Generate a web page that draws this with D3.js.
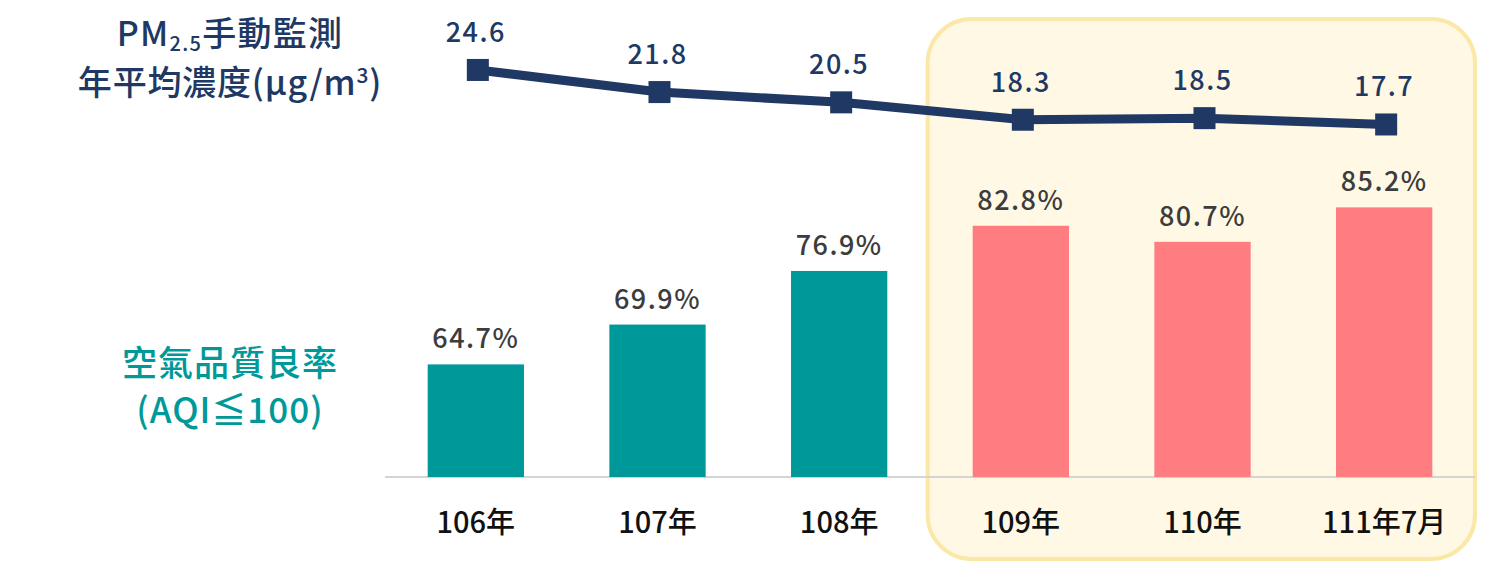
<!DOCTYPE html>
<html><head><meta charset="utf-8">
<script src="https://cdn.jsdelivr.net/npm/d3@7"></script>
<style>body{margin:0;background:#fff;}svg{display:block;}</style>
</head><body>
<svg id="c" width="1500" height="563"></svg>
<script>
const categories = ["106年","107年","108年","109年","110年","111年7月"];
const aqiRate = [64.7, 69.9, 76.9, 82.8, 80.7, 85.2];
const pm25 = [24.6, 21.8, 20.5, 18.3, 18.5, 17.7];
const highlighted = ["109年","110年","111年7月"];

const svg = d3.select("#c");
const font = "'Noto Sans CJK TC','Noto Sans',sans-serif";
const navy = "#203864", teal = "#009999", pink = "#ff7c80";

const x = d3.scaleBand().domain(categories).range([385, 1475]).paddingInner(0.47).paddingOuter(0.235);
const yBar = d3.scaleLinear().domain([50, 100]).range([477, 94]);
const yLine = d3.scaleLinear().domain([15, 25]).range([145.8, 66.8]);

// highlight box
const hx0 = x("109年") - 45;
svg.append("rect").attr("x", hx0).attr("y", 19).attr("width", 1475 - hx0).attr("height", 540)
  .attr("rx", 44).attr("fill", "#fff8e4").attr("stroke", "#fbe8a6").attr("stroke-width", 4);

// axis line
svg.append("line").attr("x1", 385).attr("x2", 1475).attr("y1", yBar(50)).attr("y2", yBar(50))
  .attr("stroke", "#d4d4d4").attr("stroke-width", 2);

// bars
svg.selectAll(".bar").data(categories).join("rect")
  .attr("x", d => x(d)).attr("width", x.bandwidth())
  .attr("y", (d, i) => yBar(aqiRate[i])).attr("height", (d, i) => yBar(50) - yBar(aqiRate[i]))
  .attr("fill", d => highlighted.includes(d) ? pink : teal);

svg.selectAll(".blab").data(categories).join("text")
  .attr("x", d => x(d) + x.bandwidth() / 2).attr("y", (d, i) => yBar(aqiRate[i]) - 16)
  .attr("text-anchor", "middle").attr("font-family", font).attr("font-size", 27).attr("font-weight", 500)
  .attr("fill", "#3c3c3c").attr("letter-spacing", 1.5)
  .text((d, i) => aqiRate[i].toFixed(1) + "%");

// category labels
svg.selectAll(".cat").data(categories).join("text")
  .attr("x", d => x(d) + x.bandwidth() / 2).attr("y", 533)
  .attr("text-anchor", "middle").attr("font-family", font).attr("font-size", 29).attr("font-weight", 500)
  .attr("fill", "#111")
  .text(d => d);

// line
const cx = d => x(d) + x.bandwidth() / 2 + 2;
const line = d3.line().x(d => cx(d)).y((d, i) => yLine(pm25[i]));
svg.append("path").datum(categories).attr("d", line).attr("fill", "none")
  .attr("stroke", navy).attr("stroke-width", 9).attr("stroke-linejoin", "round");
svg.selectAll(".mk").data(categories).join("rect")
  .attr("x", d => cx(d) - 11).attr("y", (d, i) => yLine(pm25[i]) - 11)
  .attr("width", 22).attr("height", 22).attr("fill", navy);
svg.selectAll(".llab").data(categories).join("text")
  .attr("x", d => cx(d) - 2).attr("y", (d, i) => yLine(pm25[i]) - 28)
  .attr("text-anchor", "middle").attr("font-family", font).attr("font-size", 27).attr("font-weight", 500)
  .attr("fill", navy).attr("letter-spacing", 1.5)
  .text((d, i) => pm25[i].toFixed(1));

// left titles
const t1 = svg.append("text").attr("x", 230).attr("y", 46).attr("text-anchor", "middle")
  .attr("font-family", font).attr("font-size", 34).attr("font-weight", 500).attr("fill", navy).attr("letter-spacing", 1.3);
t1.append("tspan").text("PM");
t1.append("tspan").attr("font-size", 20).attr("dy", 5).text("2.5");
t1.append("tspan").attr("dy", -5).text("手動監測");
const t2 = svg.append("text").attr("x", 230).attr("y", 95).attr("text-anchor", "middle")
  .attr("font-family", font).attr("font-size", 34).attr("font-weight", 500).attr("fill", navy).attr("letter-spacing", 0.8);
t2.append("tspan").text("年平均濃度(μg/m");
t2.append("tspan").attr("font-size", 21).attr("dy", -12).text("3");
t2.append("tspan").attr("dy", 12).text(")");

svg.append("text").attr("x", 230).attr("y", 376).attr("text-anchor", "middle")
  .attr("font-family", font).attr("font-size", 35).attr("font-weight", 500).attr("fill", teal).attr("letter-spacing", 1).text("空氣品質良率");
svg.append("text").attr("x", 230).attr("y", 423).attr("text-anchor", "middle")
  .attr("font-family", font).attr("font-size", 35).attr("font-weight", 500).attr("fill", teal).attr("letter-spacing", 1).text("(AQI≦100)");
</script>
</body></html>
